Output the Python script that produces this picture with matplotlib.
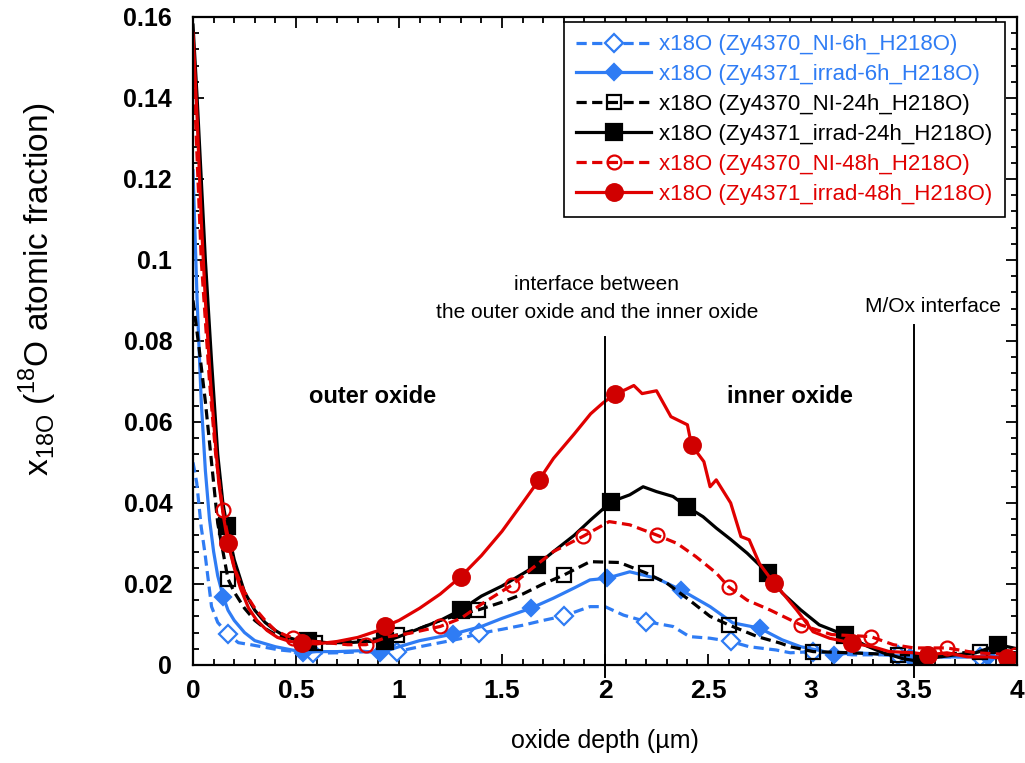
import numpy as np
import matplotlib
matplotlib.use("Agg")
import matplotlib.pyplot as plt
from matplotlib.lines import Line2D
from matplotlib.ticker import MultipleLocator, FormatStrFormatter

plt.rcParams['font.family'] = ['Liberation Sans', 'DejaVu Sans']

# ---- data (depth in um, x18O atomic fraction) ----
# Zy4370_NI-6h (blue dashed, open diamonds)
ni6_d = [0, .018, .04, .058, .09, .12, .22, .28, .42, .5, .7, .8, .9, 1.1, 1.2, 1.3, 1.5, 1.6, 1.7,
         1.927, 2.0, 2.09, 2.33, 2.41, 2.51, 2.70, 2.83, 2.9, 3.2, 3.6, 4.0]
ni6_x = [.05, .045, .034, .0276, .0144, .0105, .0055, .005, .0037, .0033, .003, .0032, .0033, .0045, .0055,
         .0065, .0088, .0098, .011, .0144, .0144, .0123, .0095, .007, .0066, .0045, .0037, .003, .0025, .002, .002]
ni6_md = [.17, .584, .99, 1.39, 1.80, 2.20, 2.61, 3.01, 3.42, 3.82]
ni6_mx = [.0076, .0029, .0033, .0078, .0121, .0107, .0058, .0033, .0025, .002]

# Zy4371_irrad-6h (blue solid, filled diamonds)
ir6_d = [0, .02, .04, .06, .08, .10, .12, .17, .2, .25, .3, .4, .5, .6, .7, .8, 1.0, 1.1, 1.4, 1.5,
         1.75, 1.85, 1.927, 2.12, 2.25, 2.51, 2.62, 2.86, 2.95, 3.05, 3.2, 3.3, 3.6, 3.7, 4.0]
ir6_x = [.122, .09, .065, .048, .036, .028, .022, .0135, .011, .008, .006, .0045, .0035, .0033, .0033, .0035,
         .0045, .006, .0095, .0115, .0165, .019, .021, .023, .0214, .0144, .0104, .0062, .0045, .0035, .003,
         .0028, .002, .002, .002]
ir6_md = [.147, .535, .91, 1.26, 1.64, 2.008, 2.37, 2.75, 3.11, 3.48, 3.86]
ir6_mx = [.0168, .003, .003, .0076, .014, .0214, .0185, .0091, .0025, .002, .002]

# Zy4370_NI-24h (black dashed, open squares)
ni24_d = [0, .03, .06, .09, .12, .2, .25, .3, .35, .4, .5, .7, .8, .9, 1.1, 1.2, 1.3, 1.5, 1.6, 1.7,
          1.927, 2.07, 2.30, 2.41, 2.51, 2.74, 2.85, 2.9, 3.2, 3.6, 4.0]
ni24_x = [.090, .078, .065, .05, .035, .018, .014, .011, .009, .0075, .006, .0055, .006, .0065, .009, .011,
          .0125, .0155, .0175, .020, .0255, .0253, .0202, .016, .012, .007, .0054, .0045, .003, .0025, .003]
ni24_md = [.17, .59, .99, 1.385, 1.80, 2.20, 2.60, 3.01, 3.42, 3.82]
ni24_mx = [.0212, .0054, .0074, .0136, .0222, .0227, .0099, .0033, .0025, .0033]

# Zy4371_irrad-24h (black solid, filled squares)
ir24_d = [0, .02, .04, .06, .09, .12, .145, .2, .25, .3, .35, .4, .45, .5, .65, .75, .85, 1.0, 1.1, 1.2,
          1.4, 1.5, 1.6, 1.75, 1.85, 1.93, 2.12, 2.185, 2.25, 2.33, 2.476, 2.54, 2.61, 2.69, 2.86, 2.95,
          3.04, 3.27, 3.35, 3.45, 3.6, 3.7, 3.8, 4.0]
ir24_x = [.158, .14, .12, .10, .075, .052, .040, .026, .018, .0135, .0105, .0085, .007, .0062, .0055, .0055,
          .0058, .007, .009, .011, .017, .0195, .0225, .028, .032, .0358, .042, .044, .0428, .0416, .0366,
          .0338, .031, .0276, .0178, .0136, .0099, .0047, .003, .0015, .0018, .0025, .003, .004]
ir24_md = [.165, .56, .93, 1.30, 1.67, 2.03, 2.40, 2.79, 3.165, 3.54, 3.91]
ir24_mx = [.0342, .0060, .0058, .0136, .0247, .0403, .039, .0227, .0074, .0008, .005]

# Zy4370_NI-48h (red dashed, open circles)
ni48_d = [0, .02, .04, .06, .08, .11, .2, .25, .3, .35, .4, .45, .55, .65, .75, .95, 1.05, 1.3, 1.4,
          1.65, 1.75, 2.02, 2.12, 2.35, 2.44, 2.54, 2.69, 2.80, 3.1, 3.4, 3.5, 3.8]
ni48_x = [.150, .125, .10, .085, .07, .052, .024, .018, .014, .011, .0085, .0073, .006, .0055, .005, .0070,
          .0078, .0115, .015, .024, .028, .0354, .0346, .030, .0268, .0227, .016, .0136, .0075, .005, .0042, .003]
ni48_md = [.144, .486, .84, 1.20, 1.55, 1.895, 2.25, 2.60, 2.95, 3.29, 3.66, 3.99]
ni48_mx = [.0383, .0067, .005, .0095, .0198, .0318, .0321, .0193, .0099, .007, .0042, .0025]

# Zy4371_irrad-48h (red solid, filled circles)
ir48_d = [0, .02, .04, .06, .085, .105, .125, .15, .2, .23, .27, .31, .36, .41, .47, .6, .7, .8, .9, 1.0,
          1.1, 1.2, 1.4, 1.5, 1.6, 1.75, 1.85, 1.93, 1.99, 2.1, 2.14, 2.18, 2.25, 2.32, 2.40, 2.48, 2.51,
          2.54, 2.61, 2.66, 2.70, 2.75, 2.85, 2.93, 3.01, 3.09, 3.3, 3.38, 3.5, 3.66, 3.76, 3.86, 4.0]
ir48_x = [.156, .135, .11, .09, .07, .057, .045, .036, .024, .019, .014, .011, .0085, .0068, .0058, .0052,
          .0058, .0068, .0085, .011, .014, .0175, .027, .033, .040, .051, .057, .062, .0647, .068, .069,
          .067, .0677, .0613, .0593, .0502, .044, .0457, .040, .0317, .0309, .025, .0185, .0136, .0082,
          .0066, .0045, .0033, .003, .003, .002, .002, .003]
ir48_md = [.17, .53, .93, 1.30, 1.68, 2.05, 2.42, 2.82, 3.20, 3.57, 3.95]
ir48_mx = [.030, .0054, .0095, .0218, .0457, .0669, .0543, .0202, .0054, .0025, .0016]

labels = ['x18O (Zy4370_NI-6h_H218O)', 'x18O (Zy4371_irrad-6h_H218O)',
          'x18O (Zy4370_NI-24h_H218O)', 'x18O (Zy4371_irrad-24h_H218O)',
          'x18O (Zy4370_NI-48h_H218O)', 'x18O (Zy4371_irrad-48h_H218O)']

blue = '#2f7cf4'
red = '#e00000'
dash = (0, (3.2, 1.7))
series = [
    (ni6_d, ni6_x, ni6_md, ni6_mx, dict(color=blue, ls=dash, marker='D', ms=9, mfc='white', mec=blue)),
    (ir6_d, ir6_x, ir6_md, ir6_mx, dict(color=blue, ls='-', marker='D', ms=8.5, mfc=blue, mec=blue)),
    (ni24_d, ni24_x, ni24_md, ni24_mx, dict(color='black', ls=dash, marker='s', ms=10, mfc='none', mec='black')),
    (ir24_d, ir24_x, ir24_md, ir24_mx, dict(color='black', ls='-', marker='s', ms=12, mfc='black', mec='black')),
    (ni48_d, ni48_x, ni48_md, ni48_mx, dict(color=red, ls=dash, marker='o', ms=10, mfc='none', mec=red)),
    (ir48_d, ir48_x, ir48_md, ir48_mx, dict(color=red, ls='-', marker='o', ms=12, mfc='#d00000', mec='#d00000')),
]

fig = plt.figure(figsize=(10.25, 7.63), dpi=100)
ax = fig.add_axes([0.1883, 0.1285, 0.8039, 0.8493])

handles = []
for d, x, md, mx, st in series:
    # line through the data points, markers on a subset
    dd = np.concatenate([d, md])
    xx = np.concatenate([x, mx])
    order = np.argsort(dd)
    ax.plot(dd[order], xx[order], color=st['color'], ls=st['ls'], lw=2.3)
    ax.plot(md, mx, ls='none', marker=st['marker'], ms=st['ms'], mfc=st['mfc'],
            mec=st['mec'], mew=1.6)
    handles.append(Line2D([], [], color=st['color'], ls=st['ls'], lw=2.3, marker=st['marker'],
                          ms=st['ms'], mfc=st['mfc'], mec=st['mec'], mew=1.6))

# interface lines
ax.plot([2.0, 2.0], [-0.003, 0.081], color='black', lw=1.4, clip_on=False)
ax.plot([3.5, 3.5], [-0.003, 0.084], color='black', lw=1.4, clip_on=False)

ax.text(0.87, 0.0664, 'outer oxide', ha='center', va='center', fontsize=17, fontweight='bold')
ax.text(2.9, 0.0664, 'inner oxide', ha='center', va='center', fontsize=17, fontweight='bold')
ax.text(1.96, 0.0905, 'interface between\nthe outer oxide and the inner oxide', ha='center', va='center',
        fontsize=15, linespacing=1.55)
ax.text(3.59, 0.0885, 'M/Ox interface', ha='center', va='center', fontsize=15)

ax.set_xlim(0, 4)
ax.set_ylim(0, 0.16)
ax.xaxis.set_major_locator(MultipleLocator(0.5))
ax.xaxis.set_minor_locator(MultipleLocator(0.1))
ax.yaxis.set_major_locator(MultipleLocator(0.02))
ax.yaxis.set_minor_locator(MultipleLocator(0.004))
ax.xaxis.set_major_formatter(FormatStrFormatter('%g'))
ax.yaxis.set_major_formatter(FormatStrFormatter('%g'))
ax.tick_params(which='both', direction='in', top=True, right=True, width=1.3)
ax.tick_params(which='major', length=8)
ax.tick_params(which='minor', length=4)
ax.tick_params(axis='x', pad=10)
ax.tick_params(axis='y', pad=15)
for lab in ax.get_xticklabels():
    lab.set_fontsize(19)
    lab.set_fontweight('bold')
for lab in ax.get_yticklabels():
    lab.set_fontsize(18)
    lab.set_fontweight('bold')
for sp in ax.spines.values():
    sp.set_linewidth(1.6)

ax.set_xlabel('oxide depth (µm)', fontsize=18, labelpad=19)
ax.set_ylabel(r'x$_\mathregular{18O}$ ($^\mathregular{18}$O atomic fraction)', fontsize=24)
ax.yaxis.set_label_coords(-0.163, 0.579)

leg = ax.legend(handles, labels, loc='upper right', bbox_to_anchor=(0.985, 0.992),
                prop={'size': 16}, handlelength=3.4, handletextpad=0.35, fancybox=False,
                edgecolor='black', framealpha=1, borderpad=0.55, labelspacing=0.4, borderaxespad=0)
leg.get_frame().set_linewidth(1.2)
for txt, (_, _, _, _, st) in zip(leg.get_texts(), series):
    txt.set_color(st['color'])

fig.savefig('out.png', dpi=100)
